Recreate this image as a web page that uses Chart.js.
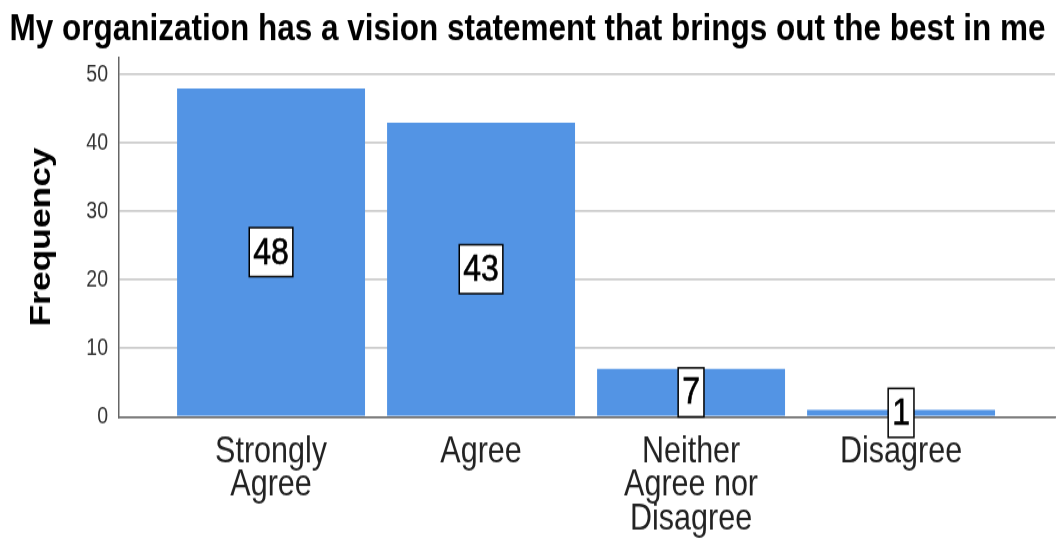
<!DOCTYPE html>
<html>
<head>
<meta charset="utf-8">
<script src="https://cdn.jsdelivr.net/npm/chart.js@4"></script>
<style>
  html, body { margin: 0; padding: 0; background: #fff; }
  /* the reference image is stretched vertically, so the canvas is too */
  #chart { width: 1059px !important; height: 539px !important; display: block; }
</style>
</head>
<body>
<canvas id="chart" width="1059" height="457"></canvas>
<script>
// data
const categories = [['Strongly', 'Agree'], 'Agree', ['Neither', 'Agree nor', 'Disagree'], 'Disagree'];
const frequencies = [48, 43, 7, 1];
const yTicks = [0, 10, 20, 30, 40, 50];

const FONT = '"Liberation Sans", Arial, sans-serif';

// boxed value labels in the middle of each bar
const boxLabels = {
    id: 'boxLabels',
    afterDatasetsDraw(chart) {
        const ctx = chart.ctx;
        const meta = chart.getDatasetMeta(0);
        ctx.save();
        ctx.font = '32px ' + FONT;
        ctx.textAlign = 'center';
        ctx.textBaseline = 'middle';
        meta.data.forEach((bar, i) => {
            const txt = String(frequencies[i]);
            const cy = (bar.y + bar.base) / 2;
            const w = ctx.measureText(txt).width + 8;
            const h = 41.5;
            ctx.fillStyle = '#fff';
            ctx.fillRect(bar.x - w / 2, cy - h / 2, w, h);
            ctx.strokeStyle = '#000';
            ctx.lineWidth = 1.5;
            ctx.strokeRect(bar.x - w / 2, cy - h / 2, w, h);
            ctx.fillStyle = '#000';
            ctx.fillText(txt, bar.x, cy + 1);
            ctx.lineWidth = 0.6;
            ctx.strokeText(txt, bar.x, cy + 1);
        });
        ctx.restore();
    }
};

new Chart(document.getElementById('chart'), {
    type: 'bar',
    data: {
        datasets: [{
            label: 'Frequency',
            data: frequencies.map((v, i) => ({ x: i, y: v })),
            backgroundColor: '#5394e4',
            borderWidth: 0,
            barPercentage: 0.895,
            categoryPercentage: 1
        }]
    },
    options: {
        responsive: false,
        animation: false,
        devicePixelRatio: 1,
        layout: { padding: { left: 0, right: 4, top: 0, bottom: 0 } },
        plugins: {
            legend: { display: false },
            tooltip: { enabled: false },
            title: {
                display: true,
                text: 'My organization has a vision statement that brings out the best in me',
                color: '#000',
                font: { family: FONT, size: 31.5, weight: 'bold', lineHeight: 1.0 },
                padding: { top: 9.7, bottom: 7.1 }
            }
        },
        scales: {
            x: {
                type: 'linear',
                min: -0.724,
                max: 3.733,
                offset: false,
                afterBuildTicks: scale => { scale.ticks = categories.map((c, i) => ({ value: i })); },
                afterFit: scale => { scale.height = 103.6; },
                grid: { display: false },
                border: { display: true, color: '#666', width: 1.5 },
                ticks: {
                    autoSkip: false,
                    maxRotation: 0,
                    padding: 8,
                    color: '#222',
                    font: { family: FONT, size: 30.5, lineHeight: 0.93 },
                    callback: v => categories[v]
                }
            },
            y: {
                min: 0,
                max: 52.6,
                afterBuildTicks: scale => { scale.ticks = yTicks.map(v => ({ value: v })); },
                afterFit: scale => { scale.width = 119; },
                grid: { color: '#cccccc', lineWidth: 1.8, drawTicks: false },
                border: { display: true, color: '#666', width: 1.5 },
                ticks: {
                    padding: 11,
                    color: '#333',
                    font: { family: FONT, size: 19.5 }
                },
                title: {
                    display: true,
                    text: 'Frequency',
                    color: '#000',
                    font: { family: FONT, size: 30, weight: 'bold', lineHeight: 1.2 },
                    padding: { top: 24, bottom: 0 }
                }
            }
        }
    },
    plugins: [boxLabels]
});
</script>
</body>
</html>
